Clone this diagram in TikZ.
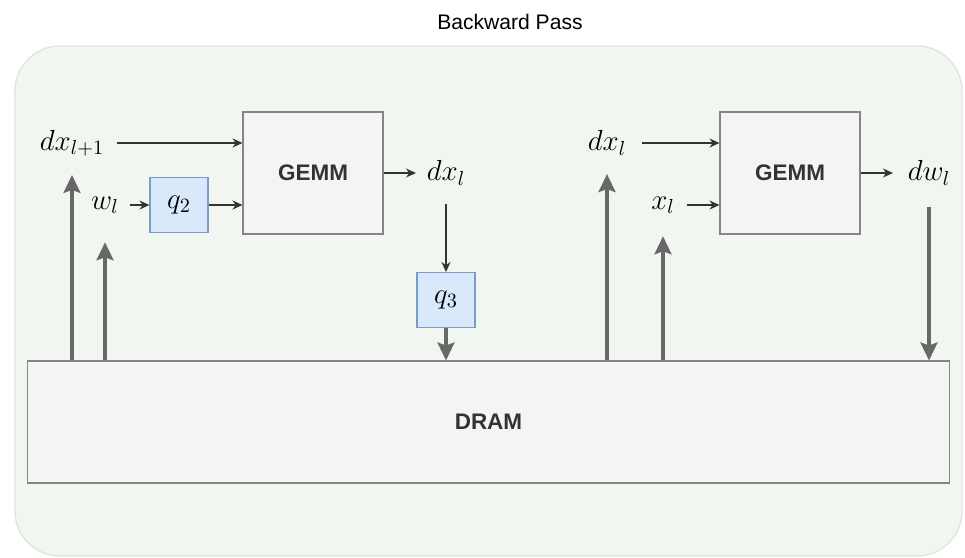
\RequirePackage{fix-cm}
\documentclass[tikz,border=0pt]{standalone}
\usepackage{fontspec}
\setsansfont{Liberation Sans}
\usepackage{tikz}
\usetikzlibrary{arrows.meta,positioning,calc}

\definecolor{bggreen}{HTML}{F1F7F0}
\definecolor{bgline}{HTML}{DCE8DA}
\definecolor{boxfill}{HTML}{F4F4F4}
\definecolor{boxline}{HTML}{858585}
\definecolor{qfill}{HTML}{DAE8FC}
\definecolor{qline}{HTML}{7A9CCB}
\definecolor{fatgray}{HTML}{686868}

\begin{document}
\begin{tikzpicture}[
  x=0.02cm, y=-0.02cm,
  gemmbox/.style={rectangle, draw=boxline, fill=boxfill, line width=0.6pt, minimum width=2.8cm, minimum height=2.44cm, font=\sffamily\bfseries\fontsize{12.8}{15}\selectfont, text=black!80},
  drambox/.style={gemmbox, minimum width=18.46cm},
  qbox/.style={rectangle, draw=qline, fill=qfill, line width=0.6pt, minimum width=1.16cm, minimum height=1.1cm, font=\fontsize{16.5}{19}\selectfont},
  lbl/.style={inner sep=2pt, font=\fontsize{16.5}{19}\selectfont},
  arrow/.style={-{Stealth[length=0.2cm,width=0.18cm]}, line width=0.7pt, draw=black!80},
  fatarrow/.style={-{Stealth[length=0.36cm,width=0.34cm,inset=0.06cm]}, line width=1.8pt, draw=fatgray}
]
\useasboundingbox (0,0) rectangle (965,558);

\node[font=\sffamily\fontsize{12}{14}\selectfont] (title) at (510,22) {Backward Pass};
\draw[draw=bgline, fill=bggreen, rounded corners=0.9cm, line width=0.8pt] (15,46) rectangle (962,556);

\node[drambox] (dram) at (488.5,422) {DRAM};

% left GEMM
\node[gemmbox] (gemmA) at (313,173) {GEMM};
\node[qbox] (q2) at (179,205) {$q_2$};
\node[qbox] (q3) at (446,300) {$q_3$};
\node[lbl] (dxn) at (72,143) {$dx_{l+1}$};
\node[lbl] (wl) at (105,205) {$w_l$};
\node[lbl] (dxl) at (446,173) {$dx_l$};

% right GEMM
\node[gemmbox] (gemmB) at (790,173) {GEMM};
\node[lbl] (dxr) at (607,143) {$dx_l$};
\node[lbl] (xl) at (663,205) {$x_l$};
\node[lbl] (dwl) at (929,173) {$dw_l$};

\draw[arrow, shorten <=5pt] (dxn.east) -- (dxn.east -| gemmA.west);
\draw[arrow, shorten <=4pt] (wl) -- (q2);
\draw[arrow] (q2.east) -- (q2.east -| gemmA.west);
\draw[arrow, shorten >=4pt] (gemmA) -- (dxl);
\draw[arrow, shorten <=0.3cm] (dxl) -- (q3);
\draw[fatarrow] (q3) -- (q3 |- dram.north);
\draw[fatarrow, shorten >=0.3cm] (dram.north -| dxn) -- (dxn);
\draw[fatarrow, shorten >=0.5cm] (dram.north -| wl) -- (wl);

\draw[arrow, shorten <=0.25cm] (dxr.east) -- (dxr.east -| gemmB.west);
\draw[arrow, shorten <=5pt] (xl.east) -- (xl.east -| gemmB.west);
\draw[arrow, shorten >=0.22cm] (gemmB) -- (dwl);
\draw[fatarrow, shorten >=0.3cm] (dram.north -| dxr) -- (dxr);
\draw[fatarrow, shorten >=0.38cm] (dram.north -| xl) -- (xl);
\draw[fatarrow, shorten <=0.35cm] (dwl) -- (dwl |- dram.north);

\end{tikzpicture}
\end{document}
